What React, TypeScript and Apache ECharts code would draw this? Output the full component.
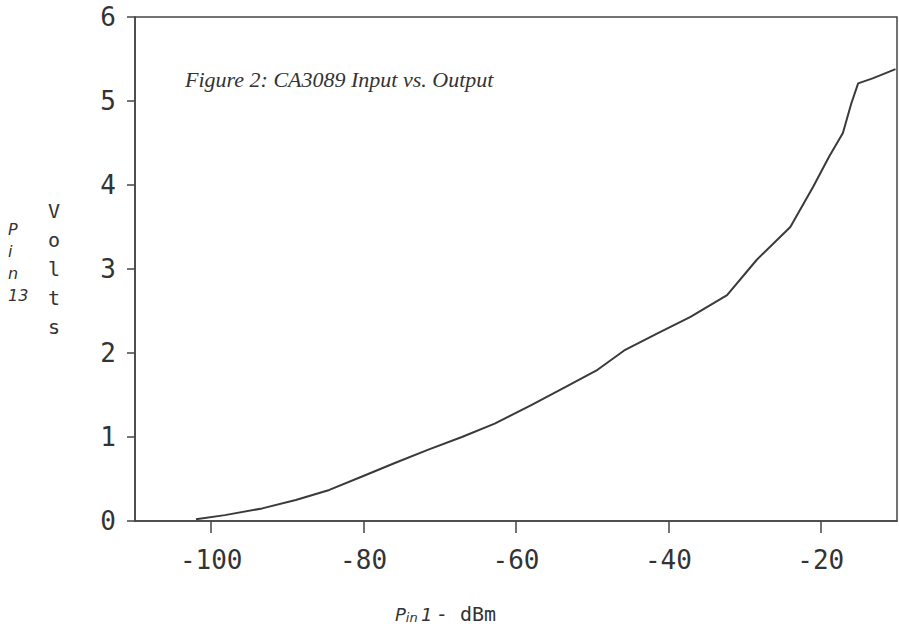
import React, { useEffect, useRef } from "react";
import * as echarts from "echarts";

const inputDbm = [-102, -98.2, -93.3, -88.9, -84.5, -80.2, -75.9, -71.5, -67.1, -62.8, -58.0, -53.6, -49.3, -45.8, -41.5, -37.1, -32.3, -28.4, -24.0, -21.0, -18.9, -17.1, -16.0, -15.1, -13.2, -11.0, -10.2];
const outputVolts = [0.02, 0.07, 0.15, 0.25, 0.37, 0.53, 0.69, 0.85, 1.0, 1.16, 1.38, 1.59, 1.8, 2.03, 2.23, 2.43, 2.69, 3.11, 3.5, 3.98, 4.34, 4.62, 4.97, 5.21, 5.27, 5.35, 5.38];
const xTickValues = [-100, -80, -60, -40, -20];
const titleText = "Figure 2: CA3089 Input vs. Output";

export default function App() {
  const ref = useRef<HTMLDivElement>(null);
  useEffect(() => {
    if (!ref.current) return;
    const chart = echarts.init(ref.current, null, { renderer: "svg" });
    const ink = "#333";
    const mono = "DejaVu Sans Mono";
    chart.setOption({
      animation: false,
      backgroundColor: "#fff",
      grid: { left: 135, right: 2, top: 17, bottom: 107, show: true, borderColor: "#444", borderWidth: 1.5 },
      xAxis: {
        type: "value",
        min: -110,
        max: -10,
        axisLine: { show: true, onZero: false, lineStyle: { color: "#444", width: 1.5 } },
        axisTick: { show: true, length: 12, customValues: xTickValues, lineStyle: { color: "#444", width: 1.5 } },
        axisLabel: { customValues: xTickValues, margin: 26, color: ink, fontFamily: mono, fontSize: 26 },
        splitLine: { show: false },
      },
      yAxis: {
        type: "value",
        min: 0,
        max: 6,
        interval: 1,
        axisLine: { show: true, lineStyle: { color: "#444", width: 1.5 } },
        axisTick: { show: true, length: 8, lineStyle: { color: "#444", width: 1.5 } },
        axisLabel: { margin: 19, color: ink, fontFamily: mono, fontSize: 26 },
        splitLine: { show: false },
      },
      series: [
        {
          type: "line",
          data: inputDbm.map((x, i) => [x, outputVolts[i]]),
          showSymbol: false,
          lineStyle: { color: "#3a3a3a", width: 2 },
        },
      ],
      graphic: [
        {
          type: "text",
          left: 185,
          top: 68,
          style: { text: titleText, fill: ink, font: "italic 22px 'Liberation Serif'" },
        },
        {
          type: "text",
          left: 48,
          top: 196,
          style: { text: "V\no\nl\nt\ns", fill: ink, font: "20px 'DejaVu Sans Mono'", lineHeight: 29, align: "center" },
        },
        {
          type: "text",
          left: 8,
          top: 218,
          style: { text: "P\ni\nn\n13", fill: ink, font: "italic 16px 'DejaVu Sans'", lineHeight: 22 },
        },
        {
          type: "text",
          left: 395,
          top: 604,
          style: {
            text: "{p|P}{s|in} {p|1} {m|- dBm}",
            fill: ink,
            rich: {
              p: { fontFamily: "DejaVu Sans", fontStyle: "italic", fontSize: 18, fill: ink },
              s: { fontFamily: "DejaVu Sans", fontStyle: "italic", fontSize: 13, fill: ink, verticalAlign: "bottom" },
              m: { fontFamily: mono, fontSize: 20, fill: ink },
            },
          },
        },
      ],
    });
    return () => chart.dispose();
  }, []);
  return <div ref={ref} style={{ position: "absolute", left: 0, top: 0, width: 899, height: 628 }} />;
}
